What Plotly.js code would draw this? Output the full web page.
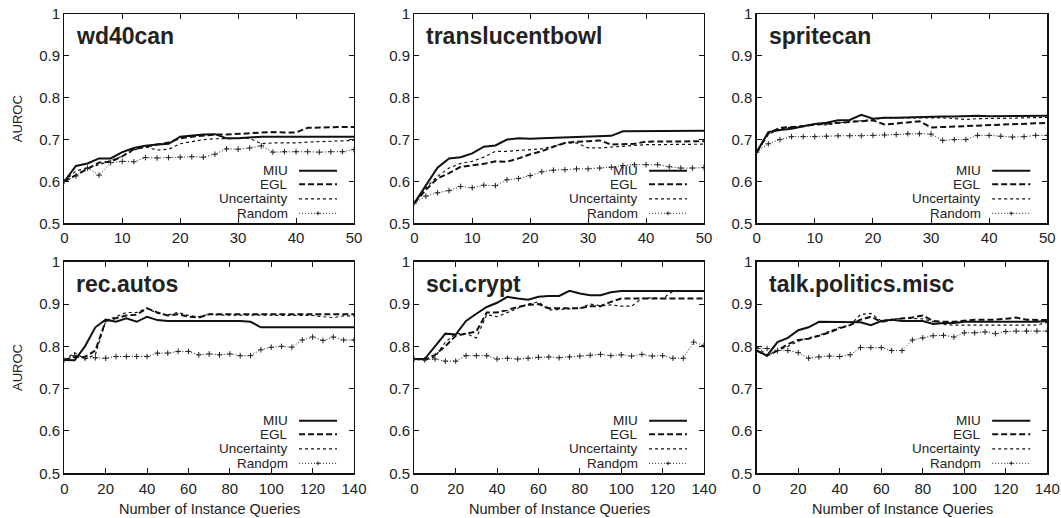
<!DOCTYPE html>
<html>
<head>
<meta charset="utf-8">
<script src="https://cdn.plot.ly/plotly-3.0.1.min.js"></script>
<style>html,body{margin:0;padding:0;background:#fff;}#chart{width:1061px;height:518px;}</style>
</head>
<body>
<div id="chart"></div>
<script>
// ---------- data ----------
const xTop = [0,2,4,6,8,10,12,14,16,18,20,22,24,26,28,30,32,34,36,38,40,42,44,46,48,50];
const xBottom = [0,5,10,15,20,25,30,35,40,45,50,55,60,65,70,75,80,85,90,95,100,105,110,115,120,125,130,135,140];

const seriesNames = ["MIU","EGL","Uncertainty","Random"];
const panelTitles = ["wd40can","translucentbowl","spritecan","rec.autos","sci.crypt","talk.politics.misc"];

const yTickVals = [0.5,0.6,0.7,0.8,0.9,1];
const yTickText = ["0.5","0.6","0.7","0.8","0.9","1"];
const xTopTickVals = [0,10,20,30,40,50];
const xBottomTickVals = [0,20,40,60,80,100,120,140];

const yAxisLabel = "AUROC";
const xAxisLabel = "Number of Instance Queries";

// wd40can
const wd40_MIU  = [0.600,0.637,0.643,0.655,0.655,0.670,0.680,0.685,0.688,0.690,0.707,0.710,0.712,0.713,0.703,0.703,0.705,0.707,0.707,0.707,0.707,0.707,0.707,0.707,0.707,0.707];
const wd40_EGL  = [0.600,0.615,0.630,0.645,0.647,0.660,0.677,0.683,0.688,0.693,0.703,0.707,0.710,0.712,0.712,0.713,0.715,0.717,0.718,0.717,0.717,0.728,0.729,0.729,0.730,0.730];
const wd40_UNC  = [0.600,0.625,0.632,0.640,0.650,0.660,0.675,0.683,0.675,0.677,0.690,0.695,0.700,0.702,0.702,0.703,0.703,0.690,0.692,0.692,0.692,0.694,0.695,0.695,0.697,0.698];
const wd40_RND  = [0.600,0.613,0.632,0.615,0.645,0.648,0.647,0.657,0.656,0.657,0.658,0.659,0.658,0.665,0.678,0.677,0.680,0.685,0.670,0.671,0.671,0.671,0.670,0.671,0.671,0.676];

// translucentbowl
const bowl_MIU  = [0.548,0.590,0.633,0.655,0.658,0.667,0.683,0.686,0.700,0.703,0.702,0.703,0.704,0.705,0.706,0.707,0.708,0.709,0.720,0.720,0.720,0.720,0.720,0.720,0.720,0.721];
const bowl_EGL  = [0.548,0.580,0.607,0.620,0.635,0.638,0.642,0.648,0.647,0.655,0.665,0.672,0.683,0.692,0.695,0.696,0.698,0.688,0.689,0.690,0.695,0.695,0.695,0.695,0.695,0.696];
const bowl_UNC  = [0.548,0.585,0.612,0.632,0.643,0.648,0.658,0.672,0.672,0.674,0.676,0.678,0.684,0.692,0.692,0.680,0.680,0.682,0.684,0.687,0.688,0.688,0.688,0.688,0.688,0.689];
const bowl_RND  = [0.548,0.565,0.573,0.578,0.588,0.585,0.591,0.590,0.604,0.607,0.614,0.623,0.627,0.628,0.630,0.630,0.632,0.634,0.638,0.640,0.640,0.640,0.635,0.632,0.632,0.633];

// spritecan
const sprite_MIU = [0.670,0.718,0.723,0.726,0.732,0.737,0.740,0.746,0.747,0.759,0.750,0.752,0.752,0.753,0.754,0.754,0.755,0.755,0.756,0.757,0.756,0.756,0.757,0.757,0.757,0.757];
const sprite_EGL = [0.670,0.715,0.728,0.730,0.732,0.736,0.738,0.740,0.742,0.745,0.746,0.736,0.738,0.741,0.744,0.729,0.730,0.731,0.733,0.734,0.735,0.736,0.737,0.738,0.739,0.740];
const sprite_UNC = [0.670,0.712,0.726,0.730,0.733,0.736,0.735,0.740,0.742,0.745,0.748,0.752,0.752,0.752,0.752,0.753,0.752,0.750,0.748,0.750,0.750,0.751,0.751,0.752,0.752,0.753];
const sprite_RND = [0.670,0.690,0.700,0.707,0.707,0.707,0.708,0.709,0.709,0.709,0.710,0.711,0.712,0.714,0.714,0.713,0.698,0.700,0.700,0.710,0.710,0.708,0.706,0.707,0.710,0.710];

// rec.autos
const autos_MIU = [0.768,0.767,0.800,0.845,0.863,0.858,0.866,0.858,0.870,0.862,0.860,0.860,0.860,0.860,0.860,0.860,0.860,0.860,0.858,0.845,0.845,0.845,0.845,0.845,0.845,0.845,0.845,0.845,0.845];
const autos_EGL = [0.768,0.775,0.775,0.790,0.860,0.866,0.873,0.875,0.890,0.880,0.873,0.876,0.870,0.868,0.876,0.876,0.876,0.876,0.876,0.876,0.876,0.876,0.876,0.876,0.876,0.876,0.876,0.876,0.876];
const autos_UNC = [0.768,0.785,0.770,0.780,0.860,0.870,0.880,0.880,0.890,0.878,0.874,0.880,0.873,0.870,0.876,0.874,0.874,0.874,0.874,0.874,0.874,0.874,0.874,0.874,0.873,0.870,0.868,0.872,0.872];
const autos_RND = [0.768,0.778,0.772,0.773,0.772,0.776,0.776,0.776,0.776,0.784,0.784,0.788,0.788,0.780,0.782,0.780,0.782,0.778,0.778,0.792,0.798,0.800,0.798,0.815,0.822,0.814,0.822,0.815,0.815];

// sci.crypt
const crypt_MIU = [0.770,0.770,0.800,0.830,0.828,0.860,0.877,0.893,0.903,0.917,0.913,0.910,0.917,0.919,0.919,0.931,0.925,0.921,0.921,0.928,0.931,0.931,0.931,0.931,0.931,0.931,0.931,0.931,0.931];
const crypt_EGL = [0.770,0.768,0.780,0.800,0.825,0.830,0.835,0.880,0.880,0.886,0.893,0.898,0.900,0.890,0.890,0.890,0.890,0.895,0.895,0.905,0.913,0.913,0.913,0.913,0.913,0.913,0.913,0.913,0.913];
const crypt_UNC = [0.770,0.768,0.775,0.810,0.830,0.830,0.820,0.875,0.870,0.880,0.890,0.900,0.905,0.886,0.887,0.888,0.890,0.900,0.896,0.898,0.895,0.895,0.913,0.915,0.913,0.930,0.930,0.930,0.930];
const crypt_RND = [0.770,0.768,0.770,0.765,0.765,0.778,0.778,0.778,0.770,0.772,0.770,0.772,0.774,0.775,0.773,0.775,0.777,0.779,0.781,0.778,0.780,0.777,0.781,0.777,0.778,0.772,0.772,0.810,0.802];

// talk.politics.misc
const pol_MIU = [0.790,0.778,0.810,0.820,0.838,0.845,0.858,0.858,0.857,0.857,0.857,0.850,0.860,0.863,0.860,0.860,0.860,0.853,0.855,0.855,0.858,0.858,0.858,0.858,0.858,0.858,0.858,0.858,0.860];
const pol_EGL = [0.790,0.778,0.790,0.805,0.815,0.818,0.825,0.833,0.843,0.850,0.863,0.870,0.858,0.862,0.866,0.868,0.873,0.860,0.858,0.858,0.860,0.863,0.863,0.863,0.865,0.868,0.863,0.862,0.862];
const pol_UNC = [0.800,0.778,0.790,0.800,0.812,0.820,0.826,0.835,0.845,0.850,0.875,0.878,0.860,0.864,0.866,0.866,0.865,0.858,0.852,0.850,0.850,0.850,0.850,0.850,0.850,0.850,0.850,0.850,0.857];
const pol_RND = [0.795,0.795,0.790,0.790,0.785,0.772,0.775,0.777,0.776,0.780,0.797,0.797,0.797,0.790,0.790,0.815,0.820,0.825,0.826,0.822,0.832,0.832,0.834,0.830,0.835,0.836,0.836,0.836,0.836];

// ---------- build ----------
const FONT = "Liberation Sans, Arial, Helvetica, sans-serif";
const panels = [
  {x:xTop,    ys:[wd40_MIU,wd40_EGL,wd40_UNC,wd40_RND]},
  {x:xTop,    ys:[bowl_MIU,bowl_EGL,bowl_UNC,bowl_RND]},
  {x:xTop,    ys:[sprite_MIU,sprite_EGL,sprite_UNC,sprite_RND]},
  {x:xBottom, ys:[autos_MIU,autos_EGL,autos_UNC,autos_RND]},
  {x:xBottom, ys:[crypt_MIU,crypt_EGL,crypt_UNC,crypt_RND]},
  {x:xBottom, ys:[pol_MIU,pol_EGL,pol_UNC,pol_RND]}
];
const styles = [
  {line:{color:'#111',width:2,dash:'solid'}, mode:'lines'},
  {line:{color:'#111',width:2,dash:'6px,3px'}, mode:'lines'},
  {line:{color:'#111',width:1.2,dash:'3px,3px'}, mode:'lines'},
  {line:{color:'#222',width:1,dash:'1px,2px'}, mode:'lines+markers',
   marker:{symbol:'cross-thin',size:4,color:'#222',line:{color:'#222',width:1}}}
];

const W = 1061, H = 518;
const xDomPx = [[64.3,354],[414.3,704],[756.7,1047.3]];
const yDomPx = [[14,223.3],[261.7,473.3]];

const traces = [];
const layout = {
  width:W, height:H, margin:{l:0,r:0,t:0,b:0},
  paper_bgcolor:'#fff', plot_bgcolor:'#fff', showlegend:false,
  font:{family:FONT,color:'#222',size:14},
  annotations:[], shapes:[]
};

panels.forEach((p,i)=>{
  const n = i+1;
  const xa = n===1?'x':'x'+n, ya = n===1?'y':'y'+n;
  const col = i%3, row = Math.floor(i/3);
  p.ys.forEach((y,k)=>{
    traces.push(Object.assign({type:'scatter', x:p.x, y:y, name:seriesNames[k], xaxis:xa, yaxis:ya, hoverinfo:'skip'}, JSON.parse(JSON.stringify(styles[k]))));
  });
  const axCommon = {showline:true, linecolor:'#111', linewidth:1.3, mirror:'ticks', ticks:'inside', ticklen:5,
    tickcolor:'#111', tickwidth:1, showgrid:false, zeroline:false, tickfont:{family:FONT,size:15,color:'#222'}};
  layout[(n===1?'xaxis':'xaxis'+n)] = Object.assign({}, axCommon, {
    domain:[xDomPx[col][0]/W, xDomPx[col][1]/W], anchor:ya,
    range: row===0 ? [0,50] : [0,140],
    tickvals: row===0 ? xTopTickVals : xBottomTickVals,
    ticklabelstandoff: row===0 ? 0 : 1
  });
  layout[(n===1?'yaxis':'yaxis'+n)] = Object.assign({}, axCommon, {
    domain:[1-yDomPx[row][1]/H, 1-yDomPx[row][0]/H], anchor:xa,
    range:[0.5,1], tickvals:yTickVals, ticktext:yTickText
  });
  const xd = n===1?'x domain':'x'+n+' domain', yd = n===1?'y domain':'y'+n+' domain';
  // panel title
  layout.annotations.push({xref:xd, yref:yd, x:0.035, y:0.895, xanchor:'left', yanchor:'middle',
    text:'<b>'+panelTitles[i]+'</b>', showarrow:false, font:{family:FONT,size:23,color:'#222'}});
  // legend
  const ph = yDomPx[row][1]-yDomPx[row][0];
  const rowsPx = [52.6,39,24.5,10];
  const legStyles = [
    {color:'#111',width:2,dash:'solid'},
    {color:'#111',width:2,dash:'6px,3px'},
    {color:'#111',width:1.2,dash:'3px,3px'},
    {color:'#222',width:1,dash:'1px,2px'}
  ];
  seriesNames.forEach((nm,k)=>{
    const yy = rowsPx[k]/ph;
    layout.annotations.push({xref:xd, yref:yd, x:1-65/290, y:yy, xanchor:'right', yanchor:'middle', borderpad:0,
      text:nm, showarrow:false, font:{family:FONT,size:13.5,color:'#222'}});
    layout.shapes.push({type:'line', xref:xd, yref:yd, x0:1-55/290, x1:1-17/290, y0:yy, y1:yy, line:legStyles[k]});
    if(k===3){
      layout.shapes.push({type:'line', xref:xd, yref:yd, x0:1-36/290, x1:1-36/290, ysizemode:'pixel', yanchor:yy, y0:-2, y1:2, line:{color:'#222',width:1}});
      layout.shapes.push({type:'line', xref:xd, yref:yd, xsizemode:'pixel', xanchor:1-36/290, x0:-2, x1:2, y0:yy, y1:yy, line:{color:'#222',width:1}});
    }
  });
  // axis titles
  if(col===0){
    layout.annotations.push({xref:'paper', yref:'paper', x:17.5/W, y:1-((yDomPx[row][0]+yDomPx[row][1])/2)/H,
      xanchor:'center', yanchor:'middle', textangle:-90, text:yAxisLabel, showarrow:false, font:{family:FONT,size:13,color:'#222'}});
  }
  if(row===1){
    layout.annotations.push({xref:'paper', yref:'paper', x:((xDomPx[col][0]+xDomPx[col][1])/2)/W, y:1-509/H,
      xanchor:'center', yanchor:'middle', text:xAxisLabel, showarrow:false, font:{family:FONT,size:14.5,color:'#222'}});
  }
});

Plotly.newPlot('chart', traces, layout, {staticPlot:true, displayModeBar:false});
</script>
</body>
</html>
